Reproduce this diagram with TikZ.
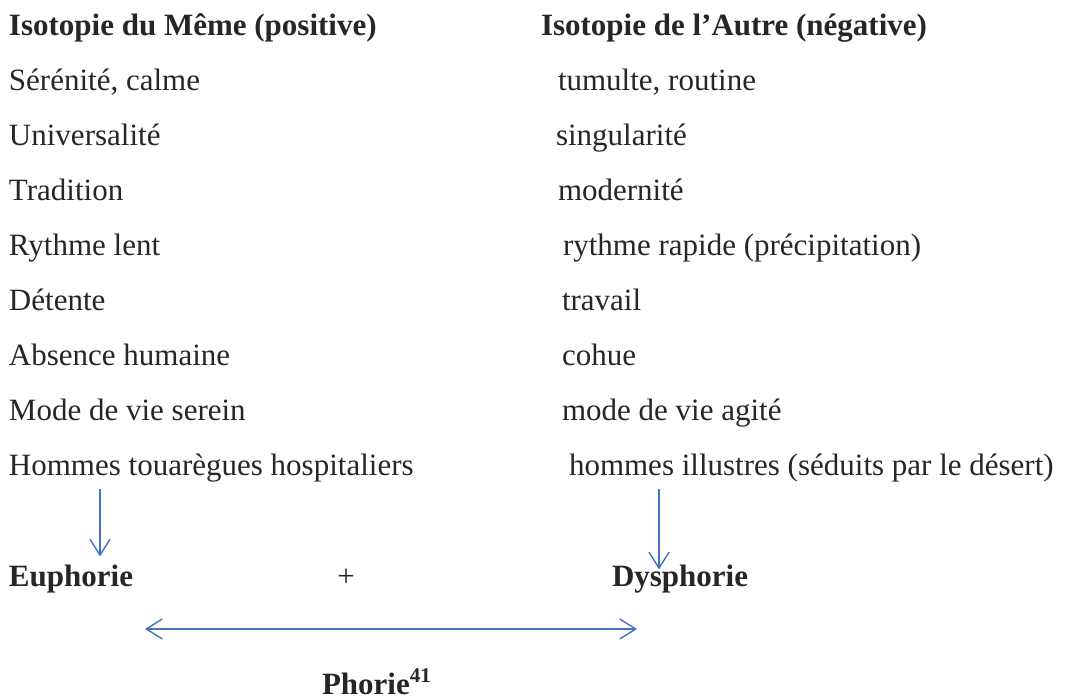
\documentclass[tikz,border=0pt]{standalone}
\usepackage{fontspec}
\setmainfont{Liberation Serif}
\usetikzlibrary{arrows.meta,calc}
\definecolor{ink}{RGB}{38,38,38}
\definecolor{arrowblue}{RGB}{68,114,196}
\begin{document}
\begin{tikzpicture}[x=1pt,y=-1pt,
  txt/.style={anchor=base west,inner sep=0pt,outer sep=0pt,text=ink,
    font=\fontsize{31}{37}\selectfont},
  head/.style={txt,font=\fontsize{31}{37}\selectfont\bfseries},
  arr/.style={draw=arrowblue,line width=1.4pt,
    -{Straight Barb[length=16pt,width=20pt,line width=1.4pt]}},
  biarr/.style={draw=arrowblue,line width=1.4pt,
    {Straight Barb[length=16pt,width=20pt,line width=1.4pt]}-{Straight Barb[length=16pt,width=20pt,line width=1.4pt]}}]
\useasboundingbox (0,0) rectangle (1075,699);

% column headings
\node[head] (titleL) at (9,35) {Isotopie du Même (positive)};
\node[head] (titleR) at (541,35) {Isotopie de l’Autre (négative)};

% left column
\node[txt] (l1) at (9,90)  {Sérénité, calme};
\node[txt] (l2) at (9,145) {Universalité};
\node[txt] (l3) at (9,200) {Tradition};
\node[txt] (l4) at (9,255) {Rythme lent};
\node[txt] (l5) at (9,310) {Détente};
\node[txt] (l6) at (9,365) {Absence humaine};
\node[txt] (l7) at (9,420) {Mode de vie serein};
\node[txt] (l8) at (9,475) {Hommes touarègues hospitaliers};

% right column
\node[txt] (r1) at (558,90)  {tumulte, routine};
\node[txt] (r2) at (556,145) {singularité};
\node[txt] (r3) at (558,200) {modernité};
\node[txt] (r4) at (563,255) {rythme rapide (précipitation)};
\node[txt] (r5) at (562,310) {travail};
\node[txt] (r6) at (562,365) {cohue};
\node[txt] (r7) at (562,420) {mode de vie agité};
\node[txt] (r8) at (569,475) {hommes illustres (séduits par le désert)};

% outcome row
\node[head] (euph) at (9,586) {Euphorie};
\node[txt,anchor=base] (plus) at (346,586) {+};
\node[head] (dys) at (612,586) {Dysphorie};
\node[head] (phorie) at (322,694)
  {Phorie\raisebox{12pt}{\fontsize{21}{24}\selectfont 41}};

% connectors
\draw[arr] ($(l8.south west)+(91,7)$) -- ($(euph.north west)+(91,-8)$);
\draw[arr] ($(r8.south west)+(90,7)$) -- ($(dys.north west)+(47,5)$);
\coordinate (spanL) at ($(phorie.base west)+(-177,-65)$);
\coordinate (spanR) at ($(phorie.base west)+(315,-65)$);
\draw[biarr] (spanL) -- (spanR);
\end{tikzpicture}
\end{document}
